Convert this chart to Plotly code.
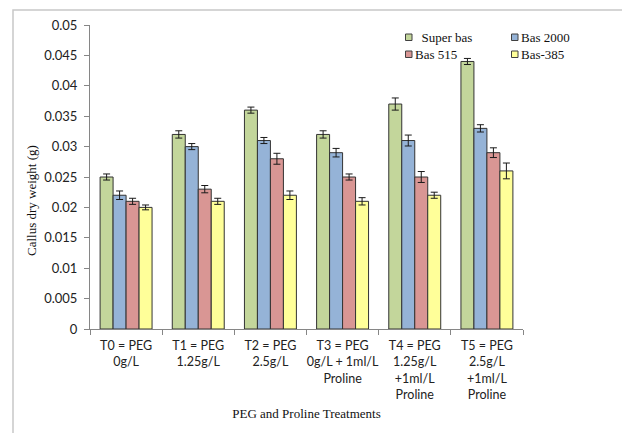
import plotly.graph_objects as go

# Treatments (x categories, multi-line tick labels)
treatments = [
    "T0 = PEG<br>0g/L",
    "T1 = PEG<br>1.25g/L",
    "T2 = PEG<br>2.5g/L",
    "T3 = PEG<br>0g/L + 1ml/L<br>Proline",
    "T4 = PEG<br>1.25g/L<br>+1ml/L<br>Proline",
    "T5 = PEG<br>2.5g/L<br>+1ml/L<br>Proline",
]

# Callus dry weight (g) per cultivar, with standard errors
super_bas = [0.025, 0.032, 0.036, 0.032, 0.037, 0.044]
super_bas_err = [0.0005, 0.0006, 0.0005, 0.0006, 0.0010, 0.0005]

bas_2000 = [0.022, 0.030, 0.031, 0.029, 0.031, 0.033]
bas_2000_err = [0.0007, 0.0005, 0.0005, 0.0007, 0.0009, 0.0006]

bas_515 = [0.021, 0.023, 0.028, 0.025, 0.025, 0.029]
bas_515_err = [0.0005, 0.0006, 0.0009, 0.0005, 0.0009, 0.0008]

bas_385 = [0.020, 0.021, 0.022, 0.021, 0.022, 0.026]
bas_385_err = [0.0004, 0.0005, 0.0007, 0.0006, 0.0005, 0.0013]

series_names = ["Super bas", "Bas 2000", "Bas 515", "Bas-385"]
series_values = [super_bas, bas_2000, bas_515, bas_385]
series_errors = [super_bas_err, bas_2000_err, bas_515_err, bas_385_err]
series_colors = ["#C3D69B", "#95B3D7", "#D99694", "#FFFF99"]

W, H = 622, 433
M_L, M_R, M_T, M_B = 90, 99, 25, 104
PW, PH = W - M_L - M_R, H - M_T - M_B


def px_x(x):
    return (x - M_L) / PW


def px_y(y):
    return (H - M_B - y) / PH


fig = go.Figure()
for name, vals, errs, col in zip(series_names, series_values, series_errors, series_colors):
    fig.add_trace(go.Bar(
        name=name,
        x=treatments,
        y=vals,
        marker=dict(color=col, line=dict(color="#333333", width=1)),
        error_y=dict(type="data", array=errs, visible=True,
                     color="#1a1a1a", thickness=1, width=3.5),
        showlegend=False,
    ))

# Legend laid out in two columns
legend_slots = [(405.5, 37), (511.5, 37), (405.5, 54), (511.5, 54)]
legend_labels = ["\u00a0\u00a0Super bas", "Bas 2000", "Bas 515", "Bas-385"]
shapes = []
annotations = []
for (lx, ly), label, col in zip(legend_slots, legend_labels, series_colors):
    shapes.append(dict(type="rect", xref="paper", yref="paper",
                       x0=px_x(lx), x1=px_x(lx + 6.5),
                       y0=px_y(ly + 3.5), y1=px_y(ly - 3),
                       fillcolor=col, line=dict(color="#404040", width=1)))
    annotations.append(dict(xref="paper", yref="paper", x=px_x(lx + 7.5), y=px_y(ly),
                            xanchor="left", yanchor="middle", showarrow=False,
                            text=label,
                            font=dict(family="Liberation Serif", size=13, color="#111")))

# Y-axis title, placed beside the tick labels
annotations.append(dict(xref="paper", yref="paper", x=px_x(31), y=px_y(201),
                        xanchor="center", yanchor="middle", textangle=-90,
                        showarrow=False, text="Callus dry weight (g)",
                        font=dict(family="Liberation Serif", size=13, color="#111")))

# Chart-area frame
shapes.append(dict(type="rect", xref="paper", yref="paper", layer="below",
                   x0=px_x(13), x1=px_x(640), y0=px_y(450), y1=px_y(10),
                   line=dict(color="#C8C8C8", width=1.5), fillcolor="rgba(0,0,0,0)"))

fig.update_layout(
    width=W, height=H,
    margin=dict(l=M_L, r=M_R, t=M_T, b=M_B, autoexpand=False),
    paper_bgcolor="white", plot_bgcolor="white",
    barmode="group", bargap=0.28, bargroupgap=0,
    shapes=shapes, annotations=annotations,
    font=dict(family="Lato", size=13, color="#222"),
    xaxis=dict(
        tickson="boundaries", ticks="outside", ticklen=5, tickcolor="#868686",
        tickangle=0, automargin=False, ticklabelstandoff=5,
        showline=True, linecolor="#868686", linewidth=1,
        showgrid=False, tickfont=dict(family="Lato", size=12.5, color="#222"),
        title=dict(text="PEG and Proline Treatments", standoff=8,
                   font=dict(family="Liberation Serif", size=13, color="#111")),
    ),
    yaxis=dict(
        range=[0, 0.05], dtick=0.005, tickformat="~g", automargin=False,
        ticks="outside", ticklen=5, tickcolor="#868686", ticklabelstandoff=4,
        showline=True, linecolor="#868686", linewidth=1,
        showgrid=False, zeroline=False,
        tickfont=dict(family="Lato", size=13, color="#222"),
    ),
)

fig.write_html("out.html")
